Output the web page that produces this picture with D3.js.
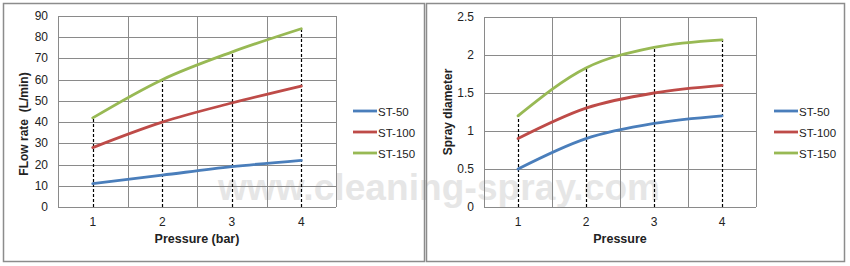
<!DOCTYPE html>
<html>
<head>
<meta charset="utf-8">
<script src="https://cdn.jsdelivr.net/npm/d3@7"></script>
<style>
  body { margin: 0; background: #fff; }
  text { font-family: "Liberation Sans", Arial, sans-serif; }
</style>
</head>
<body>
<div id="chart"></div>
<script>
// data
const pressures = [1, 2, 3, 4];
const seriesNames = ["ST-50", "ST-100", "ST-150"];
const seriesColors = ["#4a7ebb", "#be4b48", "#98b954"];

const flow50 = [11, 15, 19, 22];
const flow100 = [28, 40, 49, 57];
const flow150 = [42, 60, 73, 84];
const flowTicks = [0, 10, 20, 30, 40, 50, 60, 70, 80, 90];

const spray50 = [0.5, 0.9, 1.1, 1.2];
const spray100 = [0.9, 1.3, 1.5, 1.6];
const spray150 = [1.2, 1.83, 2.1, 2.2];
const sprayTicks = [0, 0.5, 1, 1.5, 2, 2.5];

const width = 850, height = 266;
const svg = d3.select("#chart")
    .append("svg")
    .attr("width", width)
    .attr("height", height);

svg.append("rect").attr("width", width).attr("height", height).attr("fill", "#fff");

// watermark sits faintly behind the marks
svg.append("text")
    .attr("x", 439).attr("y", 200)
    .attr("text-anchor", "middle")
    .attr("font-size", 37)
    .attr("font-weight", "bold")
    .attr("fill", "#e6e6e6")
    .attr("textLength", 442)
    .text("www.cleaning-spray.com");

function drawChart(opt) {
    const g = svg.append("g");

    // outer frame
    g.append("rect")
        .attr("x", opt.frame[0] + 0.5).attr("y", opt.frame[1] + 0.5)
        .attr("width", opt.frame[2]).attr("height", opt.frame[3])
        .attr("fill", "none").attr("stroke", "#8c8c8c").attr("stroke-width", 1.5);

    const x = d3.scaleBand()
        .domain(pressures)
        .range([opt.left, opt.right])
        .padding(0);
    const y = d3.scaleLinear()
        .domain([0, d3.max(opt.ticks)])
        .range([opt.bottom, opt.top]);
    const cx = d => x(d) + x.bandwidth() / 2;

    // horizontal gridlines
    g.append("g").selectAll("line")
        .data(opt.ticks)
        .join("line")
        .attr("x1", opt.left).attr("x2", opt.right)
        .attr("y1", d => Math.round(y(d)) + 0.5).attr("y2", d => Math.round(y(d)) + 0.5)
        .attr("stroke", "#8a8a8a").attr("stroke-width", 1);

    // vertical gridlines at band edges
    const edges = pressures.map(p => x(p)).concat([opt.right]);
    g.append("g").selectAll("line")
        .data(edges)
        .join("line")
        .attr("x1", d => Math.round(d) + 0.5).attr("x2", d => Math.round(d) + 0.5)
        .attr("y1", opt.top).attr("y2", opt.bottom)
        .attr("stroke", "#8a8a8a").attr("stroke-width", 1);

    // y tick labels
    g.append("g").selectAll("text")
        .data(opt.ticks)
        .join("text")
        .attr("x", opt.left - 10)
        .attr("y", d => y(d) + 4)
        .attr("text-anchor", "end")
        .attr("font-size", 12)
        .attr("fill", "#222")
        .text(d => d);

    // x tick labels
    g.append("g").selectAll("text")
        .data(pressures)
        .join("text")
        .attr("x", d => cx(d))
        .attr("y", opt.bottom + 19)
        .attr("text-anchor", "middle")
        .attr("font-size", 12)
        .attr("fill", "#222")
        .text(d => d);

    // dashed drop lines up to the top series
    const top = opt.series[opt.series.length - 1];
    g.append("g").selectAll("line")
        .data(pressures)
        .join("line")
        .attr("x1", d => Math.round(cx(d)) + 0.5).attr("x2", d => Math.round(cx(d)) + 0.5)
        .attr("y1", opt.bottom)
        .attr("y2", (d, i) => y(top[i]))
        .attr("stroke", "#000").attr("stroke-width", 1.2)
        .attr("stroke-dasharray", "3,2");

    // series lines
    const line = d3.line()
        .x((d, i) => cx(pressures[i]))
        .y(d => y(d))
        .curve(d3.curveMonotoneX);
    g.append("g").selectAll("path")
        .data(opt.series)
        .join("path")
        .attr("d", d => line(d))
        .attr("fill", "none")
        .attr("stroke", (d, i) => seriesColors[i])
        .attr("stroke-width", 2.8)
        .attr("stroke-linecap", "round");

    // axis titles
    g.append("text")
        .attr("transform", `translate(${opt.yTitle[0]},${opt.yTitle[1]}) rotate(-90)`)
        .attr("text-anchor", "middle")
        .attr("font-size", 12)
        .attr("font-weight", "bold")
        .attr("fill", "#222")
        .attr("xml:space", "preserve")
        .text(opt.yLabel);
    g.append("text")
        .attr("x", (opt.left + opt.right) / 2)
        .attr("y", 243)
        .attr("text-anchor", "middle")
        .attr("font-size", 12.5)
        .attr("font-weight", "bold")
        .attr("fill", "#222")
        .text(opt.xLabel);

    // legend
    const leg = g.append("g").selectAll("g")
        .data(seriesNames)
        .join("g")
        .attr("transform", (d, i) => `translate(${opt.legend[0]},${opt.legend[1] + i * 21})`);
    leg.append("line")
        .attr("x1", 0).attr("x2", 24)
        .attr("stroke", (d, i) => seriesColors[i])
        .attr("stroke-width", 2.8);
    leg.append("text")
        .attr("x", 25).attr("y", 4.5)
        .attr("font-size", 11.5)
        .attr("fill", "#222")
        .text(d => d);
}

drawChart({
    frame: [3, 3, 421, 258],
    left: 58, right: 336, top: 16, bottom: 207,
    ticks: flowTicks,
    series: [flow50, flow100, flow150],
    yLabel: "FLow rate  (L/min)", yTitle: [28, 124],
    xLabel: "Pressure (bar)",
    legend: [353, 111]
});

drawChart({
    frame: [426, 3, 418, 258],
    left: 484, right: 756, top: 17, bottom: 207,
    ticks: sprayTicks,
    series: [spray50, spray100, spray150],
    yLabel: "Spray diameter", yTitle: [452, 112],
    xLabel: "Pressure",
    legend: [774, 111]
});
</script>
</body>
</html>
